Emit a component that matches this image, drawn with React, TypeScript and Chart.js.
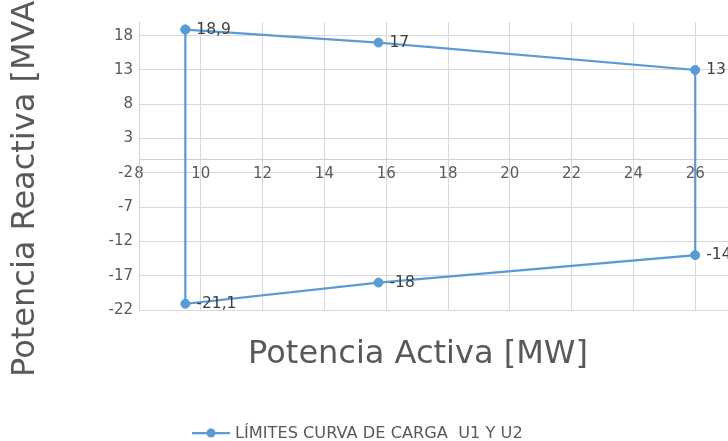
import React, { useEffect, useRef } from "react";
import { Chart, registerables } from "chart.js";

Chart.register(...registerables);

// ---- data ----
const pActiva = [9.5, 15.75, 26, 26, 15.75, 9.5, 9.5];
const qReactiva = [18.9, 17, 13, -14, -18, -21.1, 18.9];
const xTickValues = [8, 10, 12, 14, 16, 18, 20, 22, 24, 26, 28];
const yTickValues = [-22, -17, -12, -7, -2, 3, 8, 13, 18];
const seriesName = "LÍMITES CURVA DE CARGA  U1 Y U2";
const xTitle = "Potencia Activa [MW]";
const yTitle = "Potencia Reactiva [MVAr]";

const FONT = "'DejaVu Sans', sans-serif";
const BLUE = "#5b9bd5";

const fmt = (v: number) => String(v).replace(".", ",");

const labelsPlugin = {
  id: "pointLabels",
  afterDatasetsDraw(chart: any) {
    const meta = chart.getDatasetMeta(0);
    const ctx = chart.ctx;
    ctx.save();
    ctx.font = `15.5px ${FONT}`;
    ctx.fillStyle = "#404040";
    ctx.textAlign = "left";
    ctx.textBaseline = "middle";
    meta.data.forEach((pt: any, i: number) => {
      if (i === meta.data.length - 1) return;
      ctx.fillText(fmt(qReactiva[i]), pt.x + 11, pt.y);
    });
    ctx.restore();
  },
};

const titlesPlugin = {
  id: "axisTitles",
  afterDraw(chart: any) {
    const ctx = chart.ctx;
    const a = chart.chartArea;
    ctx.save();
    ctx.fillStyle = "#595959";
    ctx.font = `32px ${FONT}`;
    ctx.textAlign = "center";
    ctx.textBaseline = "alphabetic";
    ctx.fillText(xTitle, 418, a.bottom + 53);
    ctx.translate(26, (a.top + a.bottom) / 2 + 10);
    ctx.rotate(-Math.PI / 2);
    ctx.textBaseline = "middle";
    ctx.fillText(yTitle, 0, 0);
    ctx.restore();
  },
};

function App() {
  const ref = useRef<HTMLCanvasElement | null>(null);

  useEffect(() => {
    if (!ref.current) return;
    const chart = new Chart(ref.current, {
      type: "scatter",
      data: {
        datasets: [
          {
            label: seriesName,
            data: pActiva.map((x, i) => ({ x, y: qReactiva[i] })),
            showLine: true,
            borderColor: BLUE,
            backgroundColor: BLUE,
            borderWidth: 2.25,
            pointRadius: 4.5,
            pointBorderWidth: 1,
            pointBorderColor: BLUE,
            pointBackgroundColor: BLUE,
          },
        ],
      },
      options: {
        responsive: false,
        animation: false,
        devicePixelRatio: 1,
        layout: { padding: { top: 22, bottom: 131, left: 0, right: 43 } },
        plugins: {
          legend: { display: false },
          tooltip: { enabled: false },
        },
        scales: {
          x: {
            type: "linear",
            min: 8,
            max: 28,
            position: { y: 0 } as any,
            afterBuildTicks: (s: any) => {
              s.ticks = xTickValues.map((value) => ({ value }));
            },
            ticks: {
              color: "#595959",
              font: { family: FONT, size: 15 },
              padding: 6,
              maxRotation: 0,
              autoSkip: false,
            },
            grid: { color: "#d9d9d9", lineWidth: 1, drawTicks: false },
            border: { color: "#d0d0d0", width: 1 },
          },
          y: {
            type: "linear",
            min: -22,
            max: 20,
            afterBuildTicks: (s: any) => {
              s.ticks = yTickValues.map((value) => ({ value }));
            },
            afterFit: (s: any) => {
              s.width = 139;
            },
            ticks: {
              color: "#595959",
              font: { family: FONT, size: 15 },
              padding: 6,
              autoSkip: false,
            },
            grid: { color: "#d9d9d9", lineWidth: 1, drawTicks: false },
            border: { color: "#d0d0d0", width: 1 },
          },
        },
      },
      plugins: [labelsPlugin, titlesPlugin],
    });
    return () => chart.destroy();
  }, []);

  return (
    <div
      style={{
        position: "fixed",
        left: 0,
        top: 0,
        width: 728,
        height: 441,
        overflow: "hidden",
        background: "#fff",
      }}
    >
      <canvas
        ref={ref}
        width={800}
        height={441}
        style={{ position: "absolute", left: 0, top: 0, width: 800, height: 441 }}
      />
      <div
        style={{
          position: "absolute",
          left: 192,
          top: 423,
          display: "flex",
          alignItems: "center",
          whiteSpace: "pre",
          fontFamily: FONT,
          fontSize: 16.2,
          color: "#595959",
        }}
      >
        <svg width={40} height={12} style={{ marginRight: 3 }}>
          <line x1={0} y1={6} x2={38} y2={6} stroke={BLUE} strokeWidth={2.25} />
          <circle cx={19} cy={6} r={4.5} fill={BLUE} />
        </svg>
        <span>{seriesName}</span>
      </div>
    </div>
  );
}

export default App;
